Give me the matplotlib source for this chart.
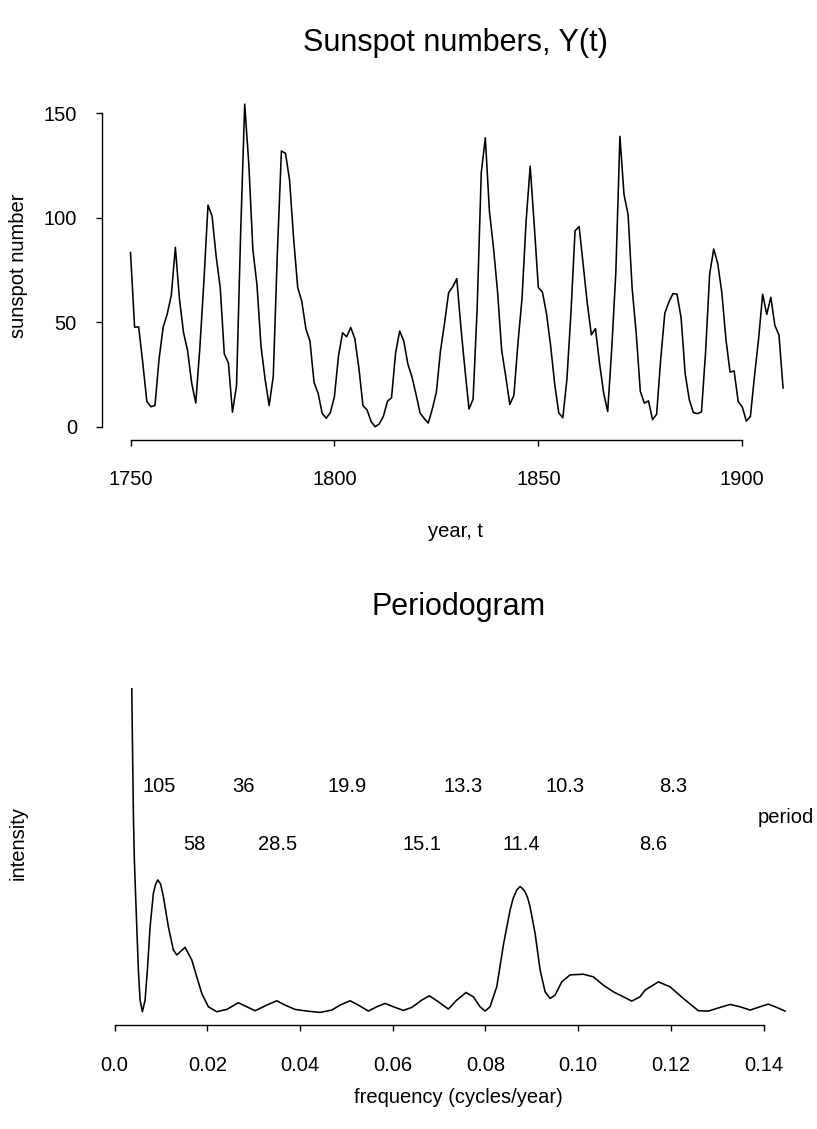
"""
sunspots.py
Annual sunspot numbers 1750-1910 and their smoothed periodogram,
with the frequency axis annotated by the corresponding periods (years).
"""

import matplotlib
matplotlib.use("Agg")
import matplotlib.pyplot as plt

plt.rcParams["font.family"] = ["Liberation Sans", "DejaVu Sans"]

# ── Annual sunspot numbers ───────────────────────────────────────────────────
years = list(range(1750, 1911))
sunspots = [
    83.4, 47.7, 47.8, 30.7, 12.2, 9.6, 10.2, 32.4, 47.6, 54.0,
    62.9, 85.9, 61.2, 45.1, 36.4, 20.9, 11.4, 37.8, 69.8, 106.1,
    100.8, 81.6, 66.5, 34.8, 30.6, 7.0, 19.8, 92.5, 154.4, 125.9,
    84.8, 68.1, 38.5, 22.8, 10.2, 24.1, 82.9, 132.0, 130.9, 118.1,
    89.9, 66.6, 60.0, 46.9, 41.0, 21.3, 16.0, 6.4, 4.1, 6.8,
    14.5, 34.0, 45.0, 43.1, 47.5, 42.2, 28.1, 10.1, 8.1, 2.5,
    0.0, 1.4, 5.0, 12.2, 13.9, 35.4, 45.8, 41.1, 30.1, 23.9,
    15.6, 6.6, 4.0, 1.8, 8.5, 16.6, 36.3, 49.6, 64.2, 67.0,
    70.9, 47.8, 27.5, 8.5, 13.2, 56.9, 121.5, 138.3, 103.2, 85.7,
    64.6, 36.7, 24.2, 10.7, 15.0, 40.1, 61.5, 98.5, 124.7, 96.3,
    66.6, 64.5, 54.1, 39.0, 20.6, 6.7, 4.3, 22.7, 54.8, 93.8,
    95.8, 77.2, 59.1, 44.0, 47.0, 30.5, 16.3, 7.3, 37.6, 74.0,
    139.0, 111.2, 101.6, 66.2, 44.7, 17.0, 11.3, 12.4, 3.4, 6.0,
    32.3, 54.3, 59.7, 63.7, 63.5, 52.2, 25.4, 13.1, 6.8, 6.3,
    7.1, 35.6, 73.0, 85.1, 78.0, 64.0, 41.8, 26.2, 26.7, 12.1,
    9.5, 2.7, 5.0, 24.4, 42.0, 63.5, 53.8, 62.0, 48.5, 43.9,
    18.6,
]
year_ticks = [1750, 1800, 1850, 1900]
count_ticks = [0, 50, 100, 150]

# ── Smoothed periodogram (arbitrary intensity units) ─────────────────────────
freq = [
    0.00371, 0.00390, 0.00408, 0.00427, 0.00453, 0.00479, 0.00513, 0.00550,
    0.00600, 0.00658, 0.00708, 0.00766, 0.00837, 0.00884, 0.00932, 0.00992,
    0.01053, 0.01160, 0.01268, 0.01342, 0.01434, 0.01521, 0.01665, 0.01773,
    0.01881, 0.02023, 0.02205, 0.02420, 0.02670, 0.02852, 0.03031, 0.03283,
    0.03499, 0.03678, 0.03893, 0.04146, 0.04433, 0.04685, 0.04864, 0.05080,
    0.05259, 0.05475, 0.05656, 0.05835, 0.06014, 0.06230, 0.06411, 0.06626,
    0.06790, 0.06984, 0.07200, 0.07381, 0.07582, 0.07739, 0.07884, 0.07992,
    0.08099, 0.08244, 0.08387, 0.08531, 0.08596, 0.08676, 0.08747, 0.08801,
    0.08855, 0.08909, 0.08963, 0.09071, 0.09179, 0.09287, 0.09395, 0.09503,
    0.09646, 0.09825, 0.10112, 0.10328, 0.10544, 0.10759, 0.10975, 0.11156,
    0.11335, 0.11443, 0.11730, 0.11982, 0.12269, 0.12593, 0.12808, 0.13061,
    0.13276, 0.13492, 0.13708, 0.13924, 0.14103, 0.14284, 0.14463,
]
intensity = [
    100.0, 78.3, 60.2, 48.2, 37.7, 28.0, 15.1, 6.0,
    2.5, 6.0, 15.1, 28.1, 38.2, 40.8, 42.2, 41.0,
    37.1, 28.1, 21.1, 19.6, 20.8, 21.9, 18.1, 13.0,
    8.0, 4.0, 2.5, 3.2, 5.2, 4.0, 2.8, 4.5,
    5.8, 4.5, 3.2, 2.7, 2.3, 3.0, 4.5, 5.8,
    4.5, 2.7, 4.0, 5.0, 4.0, 2.9, 3.8, 6.0,
    7.3, 5.5, 3.3, 6.0, 8.3, 7.0, 4.0, 2.7,
    4.0, 10.0, 22.6, 33.1, 36.6, 39.2, 40.2, 39.6,
    38.6, 36.9, 34.1, 26.1, 15.1, 8.5, 6.5, 7.5,
    11.5, 13.6, 13.8, 13.0, 10.5, 8.5, 7.0, 5.7,
    7.0, 9.0, 11.5, 10.0, 6.5, 2.8, 2.7, 3.8,
    4.7, 4.0, 3.0, 4.0, 4.8, 3.8, 2.7,
]
freq_ticks = [0.0, 0.02, 0.04, 0.06, 0.08, 0.10, 0.12, 0.14]
freq_labels = ["0.0", "0.02", "0.04", "0.06", "0.08", "0.10", "0.12", "0.14"]

# periods (years) marked above the spectrum, in two staggered rows
periods_upper = ["105", "36", "19.9", "13.3", "10.3", "8.3"]
periods_lower = ["58", "28.5", "15.1", "11.4", "8.6"]
row_upper, row_lower, row_word = 70.2, 53.0, 61.1

FS = 14.5
LW = 1.15


def s_style(ax, xbounds, xticks):
    """Detached axis lines spanning only the tick range."""
    ax.spines["top"].set_visible(False)
    ax.spines["right"].set_visible(False)
    ax.spines["bottom"].set_bounds(*xbounds)
    ax.set_xticks(xticks)
    ax.tick_params(axis="both", direction="out", length=4.5, width=1.0,
                   labelsize=FS, color="black")
    ax.tick_params(axis="x", pad=17.5)
    ax.tick_params(axis="y", pad=13.5)
    for sp in ax.spines.values():
        sp.set_linewidth(1.0)


fig = plt.figure(figsize=(8.17, 11.29), dpi=100)

# ── Top panel: time series ───────────────────────────────────────────────────
ax1 = fig.add_axes([0.1248, 0.6105, 0.8656, 0.3087])
ax1.plot(years, sunspots, color="black", linewidth=LW)
ax1.set_xlim(1743.0, 1916.4)
ax1.set_ylim(-6.2, 160.6)
s_style(ax1, (1750, 1900), year_ticks)
ax1.spines["left"].set_bounds(0, 150)
ax1.set_yticks(count_ticks)
ax1.set_title("Sunspot numbers, Y(t)", fontsize=22, pad=29)
ax1.set_xlabel("year, t", fontsize=FS)
ax1.xaxis.set_label_coords(0.5, -0.236)
ax1.set_ylabel("sunspot number", fontsize=FS)
ax1.yaxis.set_label_coords(-0.105, 0.5)

# ── Bottom panel: periodogram ────────────────────────────────────────────────
ax2 = fig.add_axes([0.1293, 0.0921, 0.8636, 0.2985])
ax2.plot(freq, intensity, color="black", linewidth=LW)
ax2.set_xlim(-0.00193, 0.15027)
ax2.set_ylim(-1.5, 100)
s_style(ax2, (0.0, 0.14), freq_ticks)
ax2.set_xticklabels(freq_labels)
ax2.spines["left"].set_visible(False)
ax2.set_yticks([])
ax2.set_title("Periodogram", fontsize=22, pad=52.5)
ax2.set_xlabel("frequency (cycles/year)", fontsize=FS)
ax2.xaxis.set_label_coords(0.5, -0.188)
ax2.set_ylabel("intensity", fontsize=FS)
ax2.yaxis.set_label_coords(-0.110, 0.54)

for p in periods_upper:
    ax2.text(1.0 / float(p), row_upper, p, fontsize=FS, ha="center", va="center")
for p in periods_lower:
    ax2.text(1.0 / float(p), row_lower, p, fontsize=FS, ha="center", va="center")
ax2.text(0.1448, row_word, "period", fontsize=FS, ha="center", va="center")

fig.savefig("out.png", dpi=100)
plt.close(fig)
